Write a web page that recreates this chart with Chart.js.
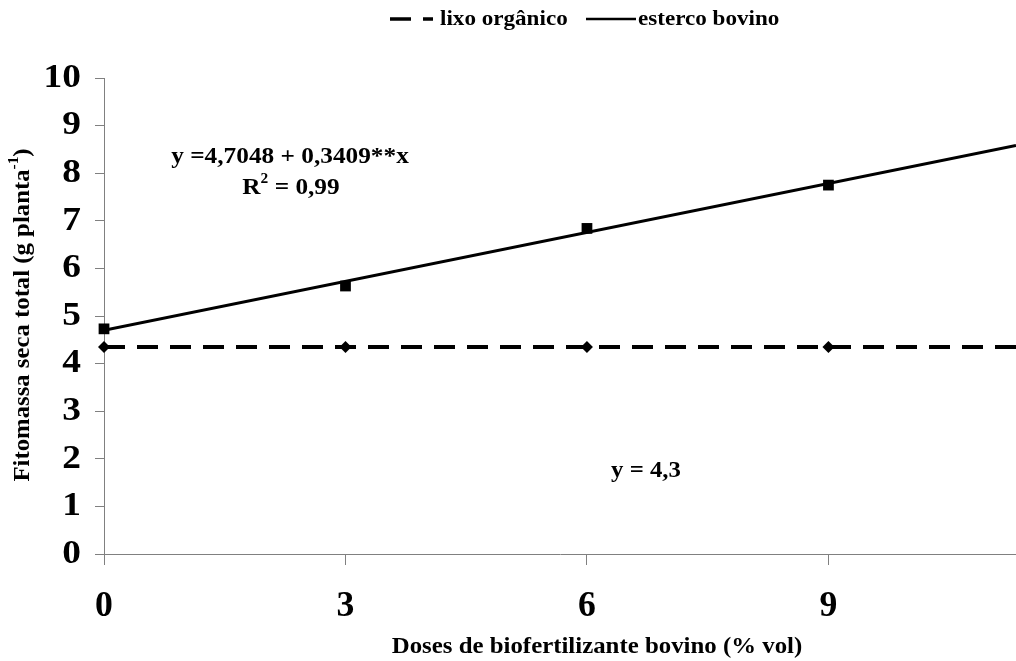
<!DOCTYPE html>
<html>
<head>
<meta charset="utf-8">
<script src="https://cdn.jsdelivr.net/npm/chart.js@4.4.1/dist/chart.umd.min.js"></script>
<style>
  html, body { margin: 0; padding: 0; background: #fff; }
  #wrap { width: 1016px; height: 661px; }
</style>
</head>
<body>
<div id="wrap"><canvas id="chart" width="1016" height="661"></canvas></div>
<script>
// data
const doses = [0, 3, 6, 9];
const estercoBovino = [4.73, 5.63, 6.84, 7.75];
const lixoOrganico = [4.35, 4.35, 4.35, 4.35];
const fitX = [0, 11.33];
const estercoFit = [4.70, 8.58];
const lixoFit = [4.35, 4.35];
const xTicks = [0, 3, 6, 9];
const yTicks = [0, 1, 2, 3, 4, 5, 6, 7, 8, 9, 10];

const FONT = '"Liberation Serif", "Times New Roman", serif';
const AXIS_GRAY = '#808080';
const STRETCH = 1.1;

function toPoints(xs, ys) {
    return xs.map((x, i) => ({ x: x, y: ys[i] }));
}

// text helper, bold Times, slightly stretched like the original
function drawText(ctx, txt, x, y, size, align, sx) {
    ctx.save();
    ctx.font = 'bold ' + size + 'px ' + FONT;
    ctx.textBaseline = 'middle';
    ctx.textAlign = align || 'center';
    ctx.fillStyle = '#000';
    ctx.translate(x, y);
    ctx.scale(sx || STRETCH, 1);
    ctx.fillText(txt, 0, 0);
    ctx.restore();
}

// draws pieces [{t, sup}] centred at 0,0 in current transform
function drawRich(ctx, parts, size) {
    const supSize = Math.round(size * 0.62);
    let total = 0;
    parts.forEach(p => {
        ctx.font = 'bold ' + (p.sup ? supSize : size) + 'px ' + FONT;
        p.w = ctx.measureText(p.t).width;
        total += p.w;
    });
    let x = -total / 2;
    ctx.textBaseline = 'middle';
    ctx.textAlign = 'left';
    ctx.fillStyle = '#000';
    parts.forEach(p => {
        ctx.font = 'bold ' + (p.sup ? supSize : size) + 'px ' + FONT;
        ctx.fillText(p.t, x, p.sup ? -size * 0.38 : 0);
        x += p.w;
    });
}

const textLayer = {
    id: 'textLayer',
    afterDraw(chart) {
        const ctx = chart.ctx;
        const xs = chart.scales.x;
        const ys = chart.scales.y;

        // tick labels
        xTicks.forEach(v => drawText(ctx, String(v), xs.getPixelForValue(v), 607, 35, 'center', 1.02));
        yTicks.forEach(v => drawText(ctx, String(v), 81, ys.getPixelForValue(v), 34, 'right', 1.1));

        // axis titles
        drawText(ctx, 'Doses de biofertilizante bovino (% vol)', 597, 647, 23, 'center', 1.08);
        ctx.save();
        ctx.translate(23, 315);
        ctx.rotate(-Math.PI / 2);
        ctx.scale(STRETCH, 1);
        drawRich(ctx, [{ t: 'Fitomassa seca total (g planta' }, { t: '-1', sup: true }, { t: ')' }], 22.5);
        ctx.restore();

        // equations
        drawText(ctx, 'y =4,7048 + 0,3409**x', 290, 157, 23, 'center');
        ctx.save();
        ctx.translate(291, 188);
        ctx.scale(STRETCH, 1);
        drawRich(ctx, [{ t: 'R' }, { t: '2', sup: true }, { t: ' = 0,99' }], 23);
        ctx.restore();
        drawText(ctx, 'y = 4,3', 646, 471, 22.5, 'center');

        // legend
        const ds = chart.data.datasets;
        ctx.save();
        ctx.strokeStyle = '#000';
        ctx.lineWidth = 3.5;
        ctx.setLineDash(ds[0].borderDash);
        ctx.beginPath();
        ctx.moveTo(390, 19);
        ctx.lineTo(433, 19);
        ctx.stroke();
        ctx.setLineDash([]);
        ctx.lineWidth = 2.5;
        ctx.beginPath();
        ctx.moveTo(586, 19);
        ctx.lineTo(636, 19);
        ctx.stroke();
        ctx.restore();
        drawText(ctx, ds[0].label, 440, 20, 21, 'left');
        drawText(ctx, ds[1].label, 638, 20, 21, 'left');
    }
};

new Chart(document.getElementById('chart'), {
    type: 'scatter',
    data: {
        datasets: [
            {
                label: 'lixo orgânico',
                data: toPoints(fitX, lixoFit),
                showLine: true,
                borderColor: '#000',
                borderWidth: 4,
                borderDash: [21, 12],
                pointRadius: 0
            },
            {
                label: 'esterco bovino',
                data: toPoints(fitX, estercoFit),
                showLine: true,
                borderColor: '#000',
                borderWidth: 3,
                pointRadius: 0
            },
            {
                label: 'lixo orgânico (obs)',
                data: toPoints(doses, lixoOrganico),
                pointStyle: 'rectRot',
                pointRadius: 6,
                backgroundColor: '#000',
                borderColor: '#000',
                borderWidth: 0,
                clip: false
            },
            {
                label: 'esterco bovino (obs)',
                data: toPoints(doses, estercoBovino),
                pointStyle: 'rect',
                pointRadius: 7.6,
                backgroundColor: '#000',
                borderColor: '#000',
                borderWidth: 0,
                clip: false
            }
        ]
    },
    options: {
        responsive: false,
        animation: false,
        layout: { autoPadding: false, padding: { top: 78, right: 0, left: 0, bottom: 0 } },
        plugins: {
            legend: { display: false },
            tooltip: { enabled: false }
        },
        scales: {
            x: {
                type: 'linear',
                min: 0,
                max: 11.33,
                afterBuildTicks: function(scale) {
                    scale.ticks = xTicks.map(v => ({ value: v }));
                },
                afterFit: function(scale) { scale.height = 107; },
                ticks: { display: false },
                grid: {
                    drawOnChartArea: false,
                    drawTicks: true,
                    tickLength: 11,
                    color: AXIS_GRAY
                },
                border: { display: true, color: AXIS_GRAY, width: 1 }
            },
            y: {
                min: 0,
                max: 10,
                afterBuildTicks: function(scale) {
                    scale.ticks = yTicks.map(v => ({ value: v }));
                },
                afterFit: function(scale) { scale.width = 104; },
                ticks: { display: false },
                grid: {
                    drawOnChartArea: false,
                    drawTicks: true,
                    tickLength: 9,
                    color: AXIS_GRAY
                },
                border: { display: true, color: AXIS_GRAY, width: 1 }
            }
        }
    },
    plugins: [textLayer]
});
</script>
</body>
</html>
